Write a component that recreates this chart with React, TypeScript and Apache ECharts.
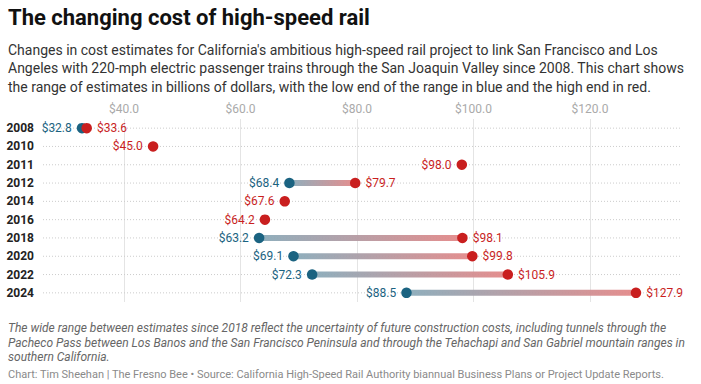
import React, { useEffect, useRef } from "react";
import * as echarts from "echarts";

const years = ["2008", "2010", "2011", "2012", "2014", "2016", "2018", "2020", "2022", "2024"];
const lowEstimates: (number | null)[] = [32.8, null, null, 68.4, null, null, 63.2, 69.1, 72.3, 88.5];
const highEstimates: number[] = [33.6, 45.0, 98.0, 79.7, 67.6, 64.2, 98.1, 99.8, 105.9, 127.9];

const titleText = "The changing cost of high-speed rail";
const subtitleLines = [
  "Changes in cost estimates for California's ambitious high-speed rail project to link San Francisco and Los",
  "Angeles with 220-mph electric passenger trains through the San Joaquin Valley since 2008. This chart shows",
  "the range of estimates in billions of dollars, with the low end of the range in blue and the high end in red.",
];
const noteLines = [
  "The wide range between estimates since 2018 reflect the uncertainty of future construction costs, including tunnels through the",
  "Pacheco Pass between Los Banos and the San Francisco Peninsula and through the Tehachapi and San Gabriel mountain ranges in",
  "southern California.",
];
const footerText =
  "Chart: Tim Sheehan | The Fresno Bee • Source: California High-Speed Rail Authority biannual Business Plans or Project Update Reports.";

const BLUE = "#1b6381";
const RED = "#c91f1f";
const FONT = "Roboto, sans-serif";

const fmt = (v: number) => "$" + v.toFixed(1);

export default function App() {
  const ref = useRef<HTMLDivElement>(null);

  useEffect(() => {
    if (!ref.current) return;
    const chart = echarts.init(ref.current, null, { renderer: "svg" });

    const lowData = lowEstimates
      .map((v, i) => (v == null ? null : { value: [v, i] }))
      .filter((d) => d !== null);
    const highData = highEstimates.map((v, i) => ({
      value: [v, i],
      label: { position: lowEstimates[i] == null ? "left" : "right" },
    }));

    const option: any = {
      animation: false,
      textStyle: { fontFamily: FONT },
      grid: { left: 43, right: 19, top: 119, bottom: 82 },
      xAxis: {
        type: "value",
        position: "top",
        min: 26.1,
        max: 135.8,
        splitNumber: 5,
        axisLine: { show: false },
        axisTick: { show: false },
        axisLabel: {
          color: "#aaaaaa",
          fontSize: 12,
          fontFamily: FONT,
          margin: 4,
          showMinLabel: false,
          showMaxLabel: false,
          formatter: (v: number) => fmt(v),
        },
        splitLine: {
          show: true,
          showMinLine: false,
          showMaxLine: false,
          lineStyle: { color: "#e4e4e4", width: 1 },
        },
      },
      yAxis: {
        type: "category",
        data: years,
        inverse: true,
        axisLine: { show: false },
        axisTick: { show: false },
        splitLine: { show: false },
        axisLabel: {
          color: "#222222",
          fontSize: 12,
          fontWeight: "bold",
          fontFamily: FONT,
          margin: 9,
        },
      },
      graphic: [
        {
          type: "text",
          left: 8,
          top: 6,
          style: { text: titleText, fontSize: 22, fontWeight: "bold", fill: "#111111", fontFamily: FONT },
        },
        {
          type: "text",
          left: 8,
          top: 40.5,
          style: {
            text: subtitleLines.join("\n"),
            fontSize: 14,
            lineHeight: 18.5,
            fill: "#333333",
            fontFamily: FONT,
          },
        },
        {
          type: "text",
          left: 8,
          top: 321,
          style: {
            text: noteLines.join("\n"),
            fontSize: 12,
            fontStyle: "italic",
            lineHeight: 14.5,
            fill: "#666666",
            fontFamily: FONT,
          },
        },
        {
          type: "text",
          left: 8,
          top: 368.5,
          style: { text: footerText, fontSize: 11, fill: "#8a8a8a", fontFamily: FONT },
        },
      ],
      series: [
        {
          type: "custom",
          encode: { x: 0, y: 1 },
          data: highEstimates.map((v, i) => [v, i]),
          z: 1,
          renderItem: (params: any, api: any) => {
            const i = params.dataIndex;
            const cs = params.coordSys;
            const high = highEstimates[i];
            const low = lowEstimates[i];
            const pHigh = api.coord([high, i]);
            const y = pHigh[1];
            const children: any[] = [
              {
                type: "line",
                shape: { x1: cs.x, y1: y, x2: cs.x + cs.width, y2: y },
                style: { stroke: "#cccccc", lineWidth: 1, lineDash: [1, 2] },
              },
            ];
            if (low != null) {
              const pLow = api.coord([low, i]);
              children.push({
                type: "rect",
                shape: { x: pLow[0], y: y - 3, width: pHigh[0] - pLow[0], height: 6 },
                style: {
                  opacity: 0.95,
                  fill: new echarts.graphic.LinearGradient(0, 0, 1, 0, [
                    { offset: 0, color: "#89abba" },
                    { offset: 1, color: "#e48888" },
                  ]),
                },
              });
            }
            return { type: "group", children };
          },
        },
        {
          type: "scatter",
          data: lowData,
          symbolSize: 10.5,
          z: 3,
          itemStyle: { color: BLUE, opacity: 1 },
          label: {
            show: true,
            position: "left",
            distance: 5,
            color: BLUE,
            fontSize: 12,
            fontFamily: FONT,
            formatter: (p: any) => fmt(p.value[0]),
          },
        },
        {
          type: "scatter",
          data: highData,
          symbolSize: 10.5,
          z: 4,
          itemStyle: { color: RED, opacity: 1 },
          label: {
            show: true,
            position: "right",
            distance: 5,
            color: RED,
            fontSize: 12,
            fontFamily: FONT,
            formatter: (p: any) => fmt(p.value[0]),
          },
        },
      ],
    };

    chart.setOption(option);
    return () => chart.dispose();
  }, []);

  return (
    <div
      ref={ref}
      style={{ position: "absolute", left: 0, top: 0, width: 701, height: 384, background: "#ffffff" }}
    />
  );
}
